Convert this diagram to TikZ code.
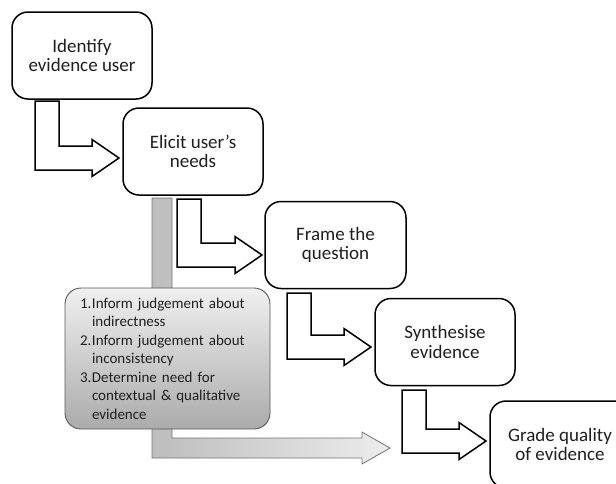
\documentclass[tikz,border=0pt]{standalone}
\usepackage{fontspec}
\setmainfont{Carlito}
\pgfdeclareverticalshading{notegrad}{100bp}{color(0bp)=(black!33); color(25bp)=(black!33); color(75bp)=(black!6); color(100bp)=(black!6)}
\pgfdeclarehorizontalshading{arrowgrad}{100bp}{color(0bp)=(black!26); color(25bp)=(black!26); color(75bp)=(black!7); color(100bp)=(black!7)}
\newcommand\bentarrow[4]{% x1, y0, ylow, xhead
  \draw[bent] (#1,#2) -- (#1,#3) -- (#4,#3) -- (#4,#3+6.5) -- (#4+27,#3-12)
    -- (#4,#3-30.5) -- (#4,#3-24) -- (#1+24,#3-24) -- (#1+24,#2) -- cycle;}
\begin{document}
\begin{tikzpicture}[x=1pt,y=-1pt,
  stepbox/.style={draw=black, line width=1.5pt, rounded corners=16pt, fill=white,
    minimum width=140pt, minimum height=87pt, inner sep=0pt, align=center,
    font=\fontsize{19}{19.5}\selectfont, text=black!88},
  bent/.style={draw=black, line width=1.5pt, fill=white, line join=miter},
  grayarrow/.style={draw=black!55, line width=0.8pt, shading=arrowgrad},
  notebox/.style={draw=black!65, line width=0.9pt, rounded corners=16pt,
    shading=notegrad, minimum width=205pt, minimum height=141pt,
    text width=175pt, inner xsep=15pt, inner ysep=0pt, align=left,
    font=\fontsize{15}{18.5}\selectfont, text=black!88}]
\useasboundingbox (0,0) rectangle (616,483);
\clip (0,0) rectangle (616,483);
\fill[white] (0,0) rectangle (616,483);

% grey arrow behind the note box
\draw[grayarrow] (152,198) -- (152,458) -- (362,458) -- (362,464) -- (390,448)
  -- (362,432) -- (362,438) -- (172,438) -- (172,198) -- cycle;

\node[stepbox] (identify) at (82,55.5) {Identify\\evidence user};
\node[stepbox] (elicit) at (193,151.5) {Elicit user’s\\needs};
\node[stepbox, minimum width=141pt] (frame) at (335.5,245) {Frame the\\question};
\node[stepbox] (synth) at (445,342) {Synthesise\\evidence};
\node[stepbox] (grade) at (560,444.5) {Grade quality\\of evidence};

\bentarrow{35}{101}{170}{92}
\bentarrow{177}{199}{267}{235}
\bentarrow{287}{293}{359}{344}
\bentarrow{402}{390}{453}{459}

\node[notebox] (note) at (167.5,358.5) {%
\makebox[12pt][l]{1.}Inform judgement about\\
\hspace*{12pt}indirectness\\
\makebox[12pt][l]{2.}Inform judgement about\\
\hspace*{12pt}inconsistency\\
\makebox[12pt][l]{3.}Determine need for\\
\hspace*{12pt}contextual \& qualitative\\
\hspace*{12pt}evidence};
\end{tikzpicture}
\end{document}
